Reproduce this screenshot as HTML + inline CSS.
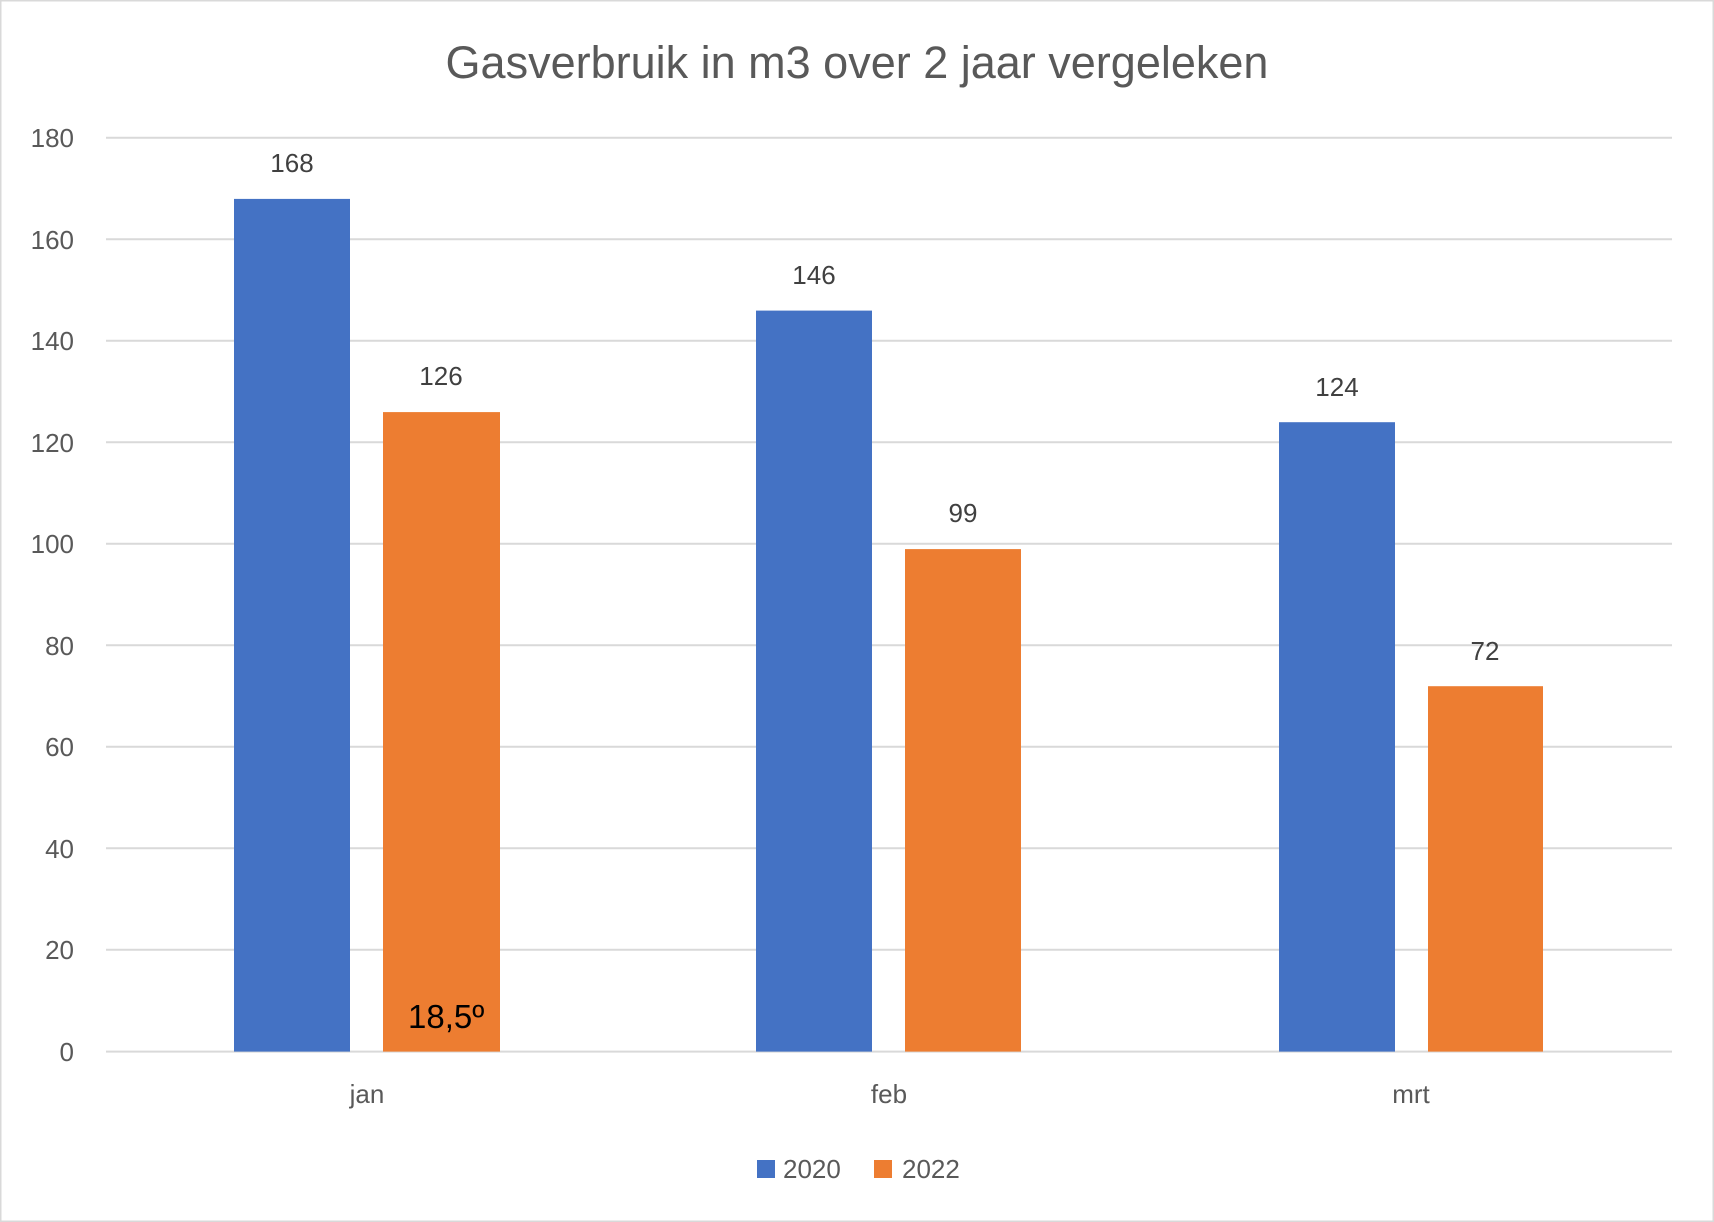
<!DOCTYPE html>
<html><head><meta charset="utf-8"><style>
body{margin:0;background:#fff}
svg{display:block}
text{font-family:"Liberation Sans",sans-serif}
</style></head><body>
<svg width="1714" height="1222" xmlns="http://www.w3.org/2000/svg">
<rect x="0.5" y="0.5" width="1713" height="1221" fill="#fff" stroke="#d9d9d9" stroke-width="2"/>
<text x="857" y="78" font-size="45" fill="#595959" text-anchor="middle">Gasverbruik in m3 over 2 jaar vergeleken</text>
<g stroke="#d9d9d9" stroke-width="2">
<line x1="106" x2="1672" y1="137.7" y2="137.7"/>
<line x1="106" x2="1672" y1="239.2" y2="239.2"/>
<line x1="106" x2="1672" y1="340.7" y2="340.7"/>
<line x1="106" x2="1672" y1="442.2" y2="442.2"/>
<line x1="106" x2="1672" y1="543.7" y2="543.7"/>
<line x1="106" x2="1672" y1="645.2" y2="645.2"/>
<line x1="106" x2="1672" y1="746.7" y2="746.7"/>
<line x1="106" x2="1672" y1="848.2" y2="848.2"/>
<line x1="106" x2="1672" y1="949.7" y2="949.7"/>
<line x1="106" x2="1672" y1="1051.6" y2="1051.6"/>
</g>
<g font-size="26" fill="#595959" text-anchor="end">
<text x="74" y="147">180</text><text x="74" y="249">160</text><text x="74" y="350">140</text>
<text x="74" y="452">120</text><text x="74" y="553">100</text><text x="74" y="655">80</text>
<text x="74" y="756">60</text><text x="74" y="858">40</text><text x="74" y="959">20</text>
<text x="74" y="1061">0</text>
</g>
<g fill="#4472c4">
<rect x="234" y="198.9" width="116" height="852.7"/>
<rect x="756" y="310.6" width="116" height="741"/>
<rect x="1279" y="422.2" width="116" height="629.4"/>
<rect x="757" y="1160" width="18" height="18"/>
</g>
<g fill="#ed7d31">
<rect x="383" y="412.1" width="117" height="639.5"/>
<rect x="905" y="549.1" width="116" height="502.5"/>
<rect x="1428" y="686.2" width="115" height="365.4"/>
<rect x="874" y="1160" width="18" height="18"/>
</g>
<g font-size="26" fill="#404040" text-anchor="middle">
<text x="292" y="172">168</text><text x="441" y="385">126</text>
<text x="814" y="284">146</text><text x="963" y="522">99</text>
<text x="1337" y="396">124</text><text x="1485" y="660">72</text>
</g>
<g font-size="26" fill="#595959" text-anchor="middle">
<text x="367" y="1103">jan</text><text x="889" y="1103">feb</text><text x="1411" y="1103">mrt</text>
</g>
<g font-size="26" fill="#595959">
<text x="783" y="1178">2020</text><text x="902" y="1178">2022</text>
</g>
<text x="408" y="1028" font-size="33" fill="#000">18,5º</text>
</svg>
</body></html>
